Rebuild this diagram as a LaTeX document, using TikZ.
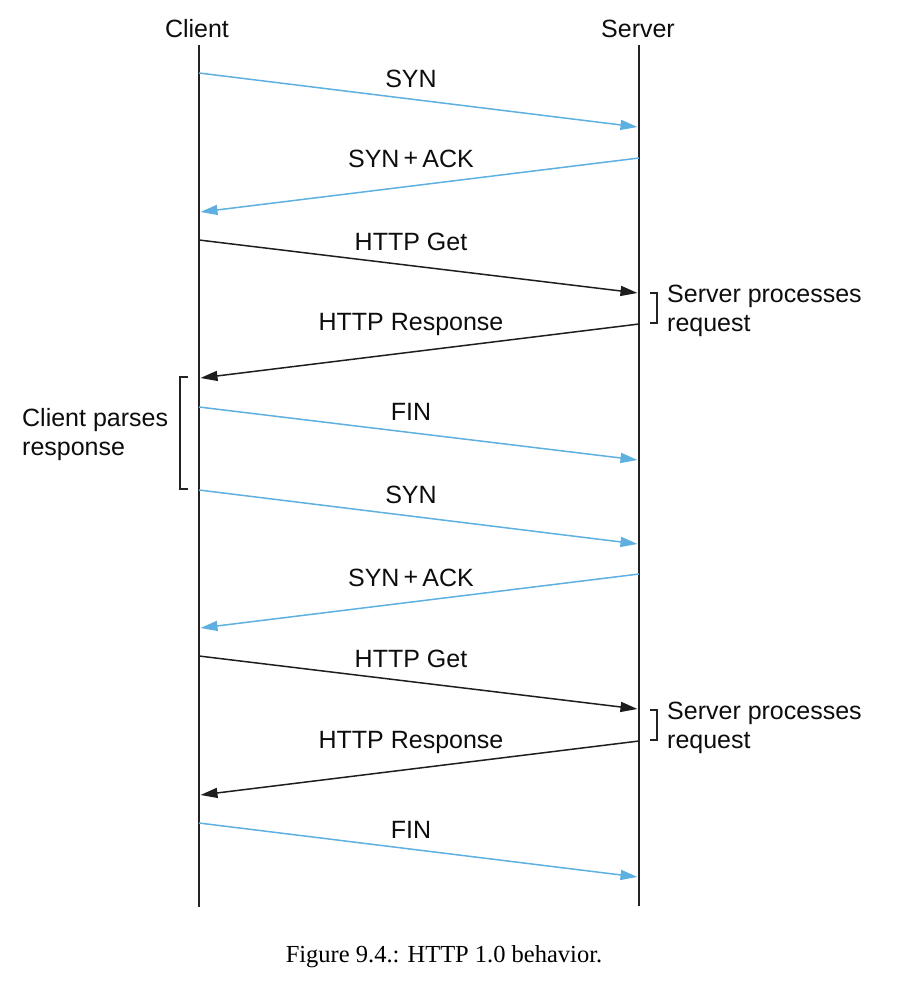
\documentclass[tikz,border=0pt]{standalone}
\usepackage{fontspec}
\setmainfont{Liberation Sans}
\newfontfamily\capfont{Liberation Serif}
\usetikzlibrary{arrows.meta}
\definecolor{msgblue}{RGB}{94,176,224}
\definecolor{msgblack}{RGB}{30,30,30}
\definecolor{linegray}{RGB}{35,35,35}
\begin{document}
\begin{tikzpicture}[x=1pt,y=-1pt,
  lifeline/.style={line width=2.9pt,draw=linegray},
  msg/.style={line width=1.5pt,-{Triangle[length=17pt,width=10pt]}},
  bluemsg/.style={msg,draw=msgblue},
  blackmsg/.style={msg,draw=msgblack},
  lbl/.style={font=\fontsize{25}{30}\selectfont,anchor=base,inner sep=0pt,text=black!95},
  sidelbl/.style={lbl,anchor=base west},
  bracketline/.style={line width=1.2pt,draw=linegray}]
\useasboundingbox (0,0) rectangle (906,986);

% lifelines
\node[lbl] (client) at (197,37) {Client};
\node[lbl] (server) at (638,37) {Server};
\coordinate (ctop) at (199,45);
\coordinate (cbot) at (199,907);
\coordinate (stop) at (639,45);
\coordinate (sbot) at (639,906);
\draw[lifeline] (ctop) -- (cbot);
\draw[lifeline] (stop) -- (sbot);

% message end points
\coordinate (c1) at (199,73);    \coordinate (s1) at (637.5,127);
\coordinate (s2) at (639,158);   \coordinate (c2) at (200.5,212);
\coordinate (c3) at (199,240);   \coordinate (s3) at (637.5,293);
\coordinate (s4) at (639,324);   \coordinate (c4) at (200.5,378);
\coordinate (c5) at (199,407);   \coordinate (s5) at (637.5,460);
\coordinate (c6) at (199,490);   \coordinate (s6) at (637.5,544);
\coordinate (s7) at (639,574);   \coordinate (c7) at (200.5,628);
\coordinate (c8) at (199,656);   \coordinate (s8) at (637.5,709);
\coordinate (s9) at (639,741);   \coordinate (c9) at (200.5,795);
\coordinate (c10) at (199,823);  \coordinate (s10) at (637.5,877);

\draw[bluemsg]  (c1) -- (s1);
\draw[bluemsg]  (s2) -- (c2);
\draw[blackmsg] (c3) -- (s3);
\draw[blackmsg] (s4) -- (c4);
\draw[bluemsg]  (c5) -- (s5);
\draw[bluemsg]  (c6) -- (s6);
\draw[bluemsg]  (s7) -- (c7);
\draw[blackmsg] (c8) -- (s8);
\draw[blackmsg] (s9) -- (c9);
\draw[bluemsg]  (c10) -- (s10);

% message labels
\node[lbl] (l1) at (411,87) {SYN};
\node[lbl] (l2) at (411,167) {SYN\,{\raisebox{1pt}{+}}\,ACK};
\node[lbl] (l3) at (411,250) {HTTP Get};
\node[lbl] (l4) at (411,330) {HTTP Response};
\node[lbl] (l5) at (411,420) {FIN};
\node[lbl] (l6) at (411,503) {SYN};
\node[lbl] (l7) at (411,586) {SYN\,{\raisebox{1pt}{+}}\,ACK};
\node[lbl] (l8) at (411,667) {HTTP Get};
\node[lbl] (l9) at (411,748) {HTTP Response};
\node[lbl] (l10) at (411,838) {FIN};

% server processing brackets
\coordinate (b1a) at (650,293); \coordinate (b1b) at (657,293);
\coordinate (b1c) at (657,323); \coordinate (b1d) at (650,323);
\draw[bracketline] (b1a) -- (b1b) -- (b1c) -- (b1d);
\node[sidelbl] (sp1a) at (667,302) {Server processes};
\node[sidelbl] (sp1b) at (667,331) {request};

\coordinate (b2a) at (650,710); \coordinate (b2b) at (657,710);
\coordinate (b2c) at (657,740); \coordinate (b2d) at (650,740);
\draw[bracketline] (b2a) -- (b2b) -- (b2c) -- (b2d);
\node[sidelbl] (sp2a) at (667,719) {Server processes};
\node[sidelbl] (sp2b) at (667,748) {request};

% client parsing bracket
\coordinate (cba) at (188,377); \coordinate (cbb) at (180,377);
\coordinate (cbc) at (180,489); \coordinate (cbd) at (188,489);
\draw[bracketline] (cba) -- (cbb) -- (cbc) -- (cbd);
\node[sidelbl] (cp1) at (22,426) {Client parses};
\node[sidelbl] (cp2) at (22,455) {response};

% caption
\node[font=\capfont\fontsize{24.5}{29}\selectfont,anchor=base,inner sep=0pt] (caption) at (444,962) {Figure 9.4.: HTTP 1.0 behavior.};
\end{tikzpicture}
\end{document}
